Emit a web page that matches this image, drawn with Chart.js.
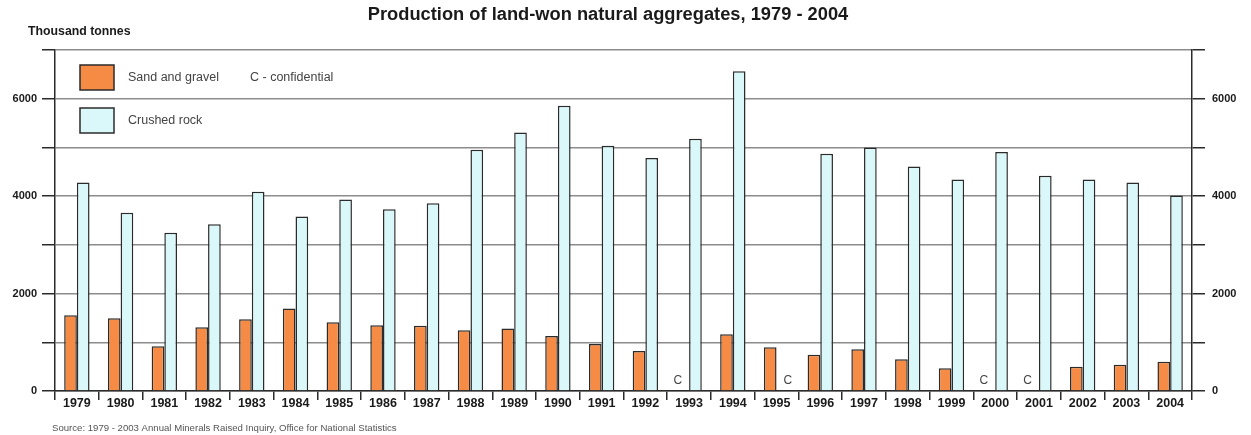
<!DOCTYPE html>
<html lang="en">
<head>
  <meta charset="UTF-8">
  <title>Production of land-won natural aggregates, 1979 - 2004</title>
  <script src="https://cdn.jsdelivr.net/npm/chart.js"></script>
  <style>
    html, body { margin: 0; padding: 0; background: #fff; }
    #wrap { width: 1251px; height: 435px; }
  </style>
</head>
<body>
<div id="wrap"><canvas id="aggChart" width="1251" height="435"></canvas></div>
<script>
  const years = ['1979','1980','1981','1982','1983','1984','1985','1986','1987','1988','1989','1990','1991',
                 '1992','1993','1994','1995','1996','1997','1998','1999','2000','2001','2002','2003','2004'];
  // null = confidential (shown as "C")
  const sandGravel = [1555, 1494, 918, 1309, 1473, 1691, 1411, 1349, 1342, 1246, 1281, 1130, 966,
                      822, null, 1164, 897, 746, 856, 651, 466, null, null, 500, 541, 603];
  const crushedRock = [4280, 3657, 3246, 3425, 4089, 3582, 3931, 3733, 3856, 4952, 5308, 5856, 5034,
                       4781, 5178, 6562, null, 4870, 5000, 4609, 4342, 4904, 4418, 4342, 4280, 4014];
  const yTicks = [0, 2000, 4000, 6000];

  const orange = '#F68B45';
  const cyan = '#DAF8FA';
  const edge = '#2b2b2b';

  // title, unit, legend, source and "C" markers
  const overlay = {
    id: 'overlay',
    afterDatasetsDraw(chart) {
      const c = chart.ctx;
      c.save();
      c.fillStyle = '#1a1a1a';
      c.font = 'bold 18.3px "Liberation Sans", Arial, sans-serif';
      c.textAlign = 'center';
      c.textBaseline = 'middle';
      c.fillText('Production of land-won natural aggregates, 1979 - 2004', 608, 15);

      c.font = 'bold 12.3px "Liberation Sans", Arial, sans-serif';
      c.textAlign = 'left';
      c.fillText('Thousand tonnes', 28, 32);

      // legend
      c.lineWidth = 1.5;
      c.strokeStyle = edge;
      c.fillStyle = orange;
      c.fillRect(80, 65, 34, 25);
      c.strokeRect(80, 65, 34, 25);
      c.fillStyle = cyan;
      c.fillRect(80, 108, 34, 25);
      c.strokeRect(80, 108, 34, 25);
      c.fillStyle = '#444';
      c.font = '12.5px "Liberation Sans", Arial, sans-serif';
      c.fillText('Sand and gravel', 128, 78);
      c.fillText('C - confidential', 250, 78);
      c.fillText('Crushed rock', 128, 121);

      // confidential markers, nudged outward a little like the original
      c.textAlign = 'center';
      c.font = '12px "Liberation Sans", Arial, sans-serif';
      const yBase = chart.scales.y.getPixelForValue(0);
      chart.data.datasets.forEach((ds, di) => {
        const meta = chart.getDatasetMeta(di);
        const nudge = di === 0 ? -5 : 5;
        ds.data.forEach((v, i) => {
          if (v === null) c.fillText('C', meta.data[i].x + nudge, yBase - 10);
        });
      });

      c.fillStyle = '#555';
      c.font = '9.6px "Liberation Sans", Arial, sans-serif';
      c.textAlign = 'left';
      c.fillText('Source: 1979 - 2003 Annual Minerals Raised Inquiry, Office for National Statistics', 52, 428);
      c.restore();
    }
  };

  const yFont = { family: '"Liberation Sans", Arial, sans-serif', size: 11, weight: 'bold' };
  const xFont = { family: '"Liberation Sans", Arial, sans-serif', size: 12.5, weight: 'bold' };

  new Chart(document.getElementById('aggChart').getContext('2d'), {
    type: 'bar',
    data: {
      labels: years,
      datasets: [
        { label: 'Sand and gravel', data: sandGravel, backgroundColor: orange, borderColor: edge, borderWidth: 1.5 },
        { label: 'Crushed rock', data: crushedRock, backgroundColor: cyan, borderColor: edge, borderWidth: 1.5 }
      ]
    },
    options: {
      responsive: false,
      animation: false,
      events: [],
      categoryPercentage: 0.58,
      barPercentage: 1.0,
      layout: { padding: { top: 50, bottom: 20, left: 0, right: 0 } },
      plugins: { legend: { display: false }, title: { display: false }, tooltip: { enabled: false } },
      scales: {
        x: {
          offset: true,
          grid: { offset: true, drawOnChartArea: false, drawTicks: true, tickLength: 9, color: edge, lineWidth: 1.5 },
          border: { display: true, color: edge, width: 1.5 },
          ticks: { font: xFont, color: '#1a1a1a', padding: -4, maxRotation: 0, autoSkip: false },
          afterFit(s) { s.height = 24; }
        },
        y: {
          position: 'left',
          min: 0, max: 7000,
          grid: { color: '#8c8c8c', lineWidth: 1.5, tickLength: 13, tickColor: edge },
          border: { display: true, color: edge, width: 1.5 },
          ticks: {
            stepSize: 1000, font: yFont, color: '#1a1a1a', padding: 5,
            callback: v => yTicks.includes(v) ? v : ''
          },
          afterFit(s) { s.width = 55; }
        },
        y2: {
          position: 'right',
          min: 0, max: 7000,
          grid: { drawOnChartArea: false, tickLength: 13, color: edge, lineWidth: 1.5 },
          border: { display: true, color: edge, width: 1.5 },
          ticks: {
            stepSize: 1000, font: yFont, color: '#1a1a1a', padding: 7,
            callback: v => yTicks.includes(v) ? v : ''
          },
          afterFit(s) { s.width = 59; }
        }
      }
    },
    plugins: [overlay]
  });
</script>
</body>
</html>
